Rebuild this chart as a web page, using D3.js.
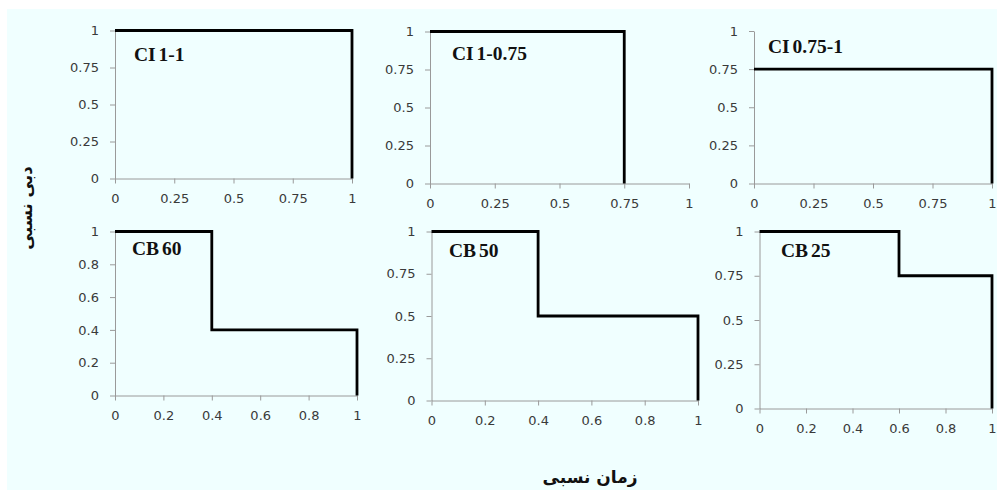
<!DOCTYPE html>
<html>
<head>
<meta charset="utf-8">
<script src="https://cdn.jsdelivr.net/npm/d3@7"></script>
<style>
  html, body { margin: 0; padding: 0; background: #ffffff; }
  svg { display: block; }
  .tick text { font-family: "DejaVu Sans", Verdana, sans-serif; font-size: 13px; fill: #3a3a3a; }
  .domain, .tick line { stroke: #9a9a9a; stroke-width: 1; }
</style>
</head>
<body>
<svg id="chart" width="997" height="490"></svg>
<script>
// Panel names
const panelTitles = ["CI 1-1", "CI 1-0.75", "CI 0.75-1", "CB 60", "CB 50", "CB 25"];
// Step breakpoints on the relative-time axis
const stepTimes = [[0, 1], [0, 0.75], [0, 1], [0, 0.4, 1], [0, 0.4, 1], [0, 0.6, 1]];
// Relative discharge level held between consecutive breakpoints
const stepLevels = [[1], [1], [0.75], [1, 0.4], [1, 0.5], [1, 0.75]];
// Tick labels
const xTicksTop = [0, 0.25, 0.5, 0.75, 1];
const xTicksBottom = [0, 0.2, 0.4, 0.6, 0.8, 1];
const yTicksQuarter = [0, 0.25, 0.5, 0.75, 1];
const yTicksFifth = [0, 0.2, 0.4, 0.6, 0.8, 1];
const panelXTicks = [xTicksTop, xTicksTop, xTicksTop, xTicksBottom, xTicksBottom, xTicksBottom];
const panelYTicks = [yTicksQuarter, yTicksQuarter, yTicksQuarter, yTicksFifth, yTicksQuarter, yTicksQuarter];
const yTitle = "دبی نسبی";
const xTitle = "زمان نسبی";

// Plot boxes: left, right, top, bottom (pixels) and title anchor
const boxes = [
  { l: 115, r: 352, t: 30.5, b: 178.5, tx: 134, ty: 61 },
  { l: 430, r: 689, t: 31.5, b: 183.5, tx: 452, ty: 60 },
  { l: 754, r: 992, t: 31,   b: 183.5, tx: 768, ty: 53 },
  { l: 115, r: 357, t: 231.5, b: 395.5, tx: 132, ty: 255 },
  { l: 431.5, r: 698, t: 231.5, b: 400.5, tx: 449, ty: 257 },
  { l: 759.5, r: 992, t: 231.5, b: 408.5, tx: 781, ty: 257 }
];

const svg = d3.select("#chart");
svg.append("rect").attr("x", 7).attr("y", 9).attr("width", 990).attr("height", 481)
  .attr("fill", "#f0ffff");

panelTitles.forEach((title, i) => {
  const box = boxes[i];
  const x = d3.scaleLinear().domain([0, 1]).range([box.l, box.r]);
  const y = d3.scaleLinear().domain([0, 1]).range([box.b, box.t]);
  const g = svg.append("g");

  g.append("g").attr("transform", `translate(0,${box.b})`)
    .call(d3.axisBottom(x).tickValues(panelXTicks[i]).tickFormat(d => String(d))
      .tickSizeInner(5).tickSizeOuter(0).tickPadding(10));
  g.append("g").attr("transform", `translate(${box.l},0)`)
    .call(d3.axisLeft(y).tickValues(panelYTicks[i]).tickFormat(d => String(d))
      .tickSizeInner(5).tickSizeOuter(0).tickPadding(11));

  // Build the step outline: each level spans two breakpoints, then drops to zero
  const pts = [];
  const xs = stepTimes[i], ys = stepLevels[i];
  ys.forEach((v, k) => { pts.push([xs[k], v]); pts.push([xs[k + 1], v]); });
  pts.push([xs[xs.length - 1], 0]);

  g.append("path")
    .datum(pts)
    .attr("fill", "none")
    .attr("stroke", "#000")
    .attr("stroke-width", 2.8)
    .attr("stroke-linejoin", "miter")
    .attr("d", d3.line().x(d => x(d[0])).y(d => y(d[1])));

  g.append("text")
    .attr("x", box.tx).attr("y", box.ty)
    .attr("font-family", "'Liberation Serif', 'Times New Roman', serif")
    .attr("font-weight", "bold").attr("font-size", 19.5)
    .attr("word-spacing", -2)
    .attr("fill", "#111")
    .text(title);
});

svg.append("text")
  .attr("transform", "translate(27,208) rotate(-90)")
  .attr("text-anchor", "middle").attr("dominant-baseline", "middle")
  .attr("font-family", "'DejaVu Sans', sans-serif").attr("font-weight", "bold")
  .attr("font-size", 16.5).attr("fill", "#111")
  .text(yTitle);

svg.append("text")
  .attr("x", 590).attr("y", 483)
  .attr("text-anchor", "middle")
  .attr("font-family", "'DejaVu Sans', sans-serif").attr("font-weight", "bold")
  .attr("font-size", 17).attr("fill", "#111")
  .text(xTitle);
</script>
</body>
</html>
